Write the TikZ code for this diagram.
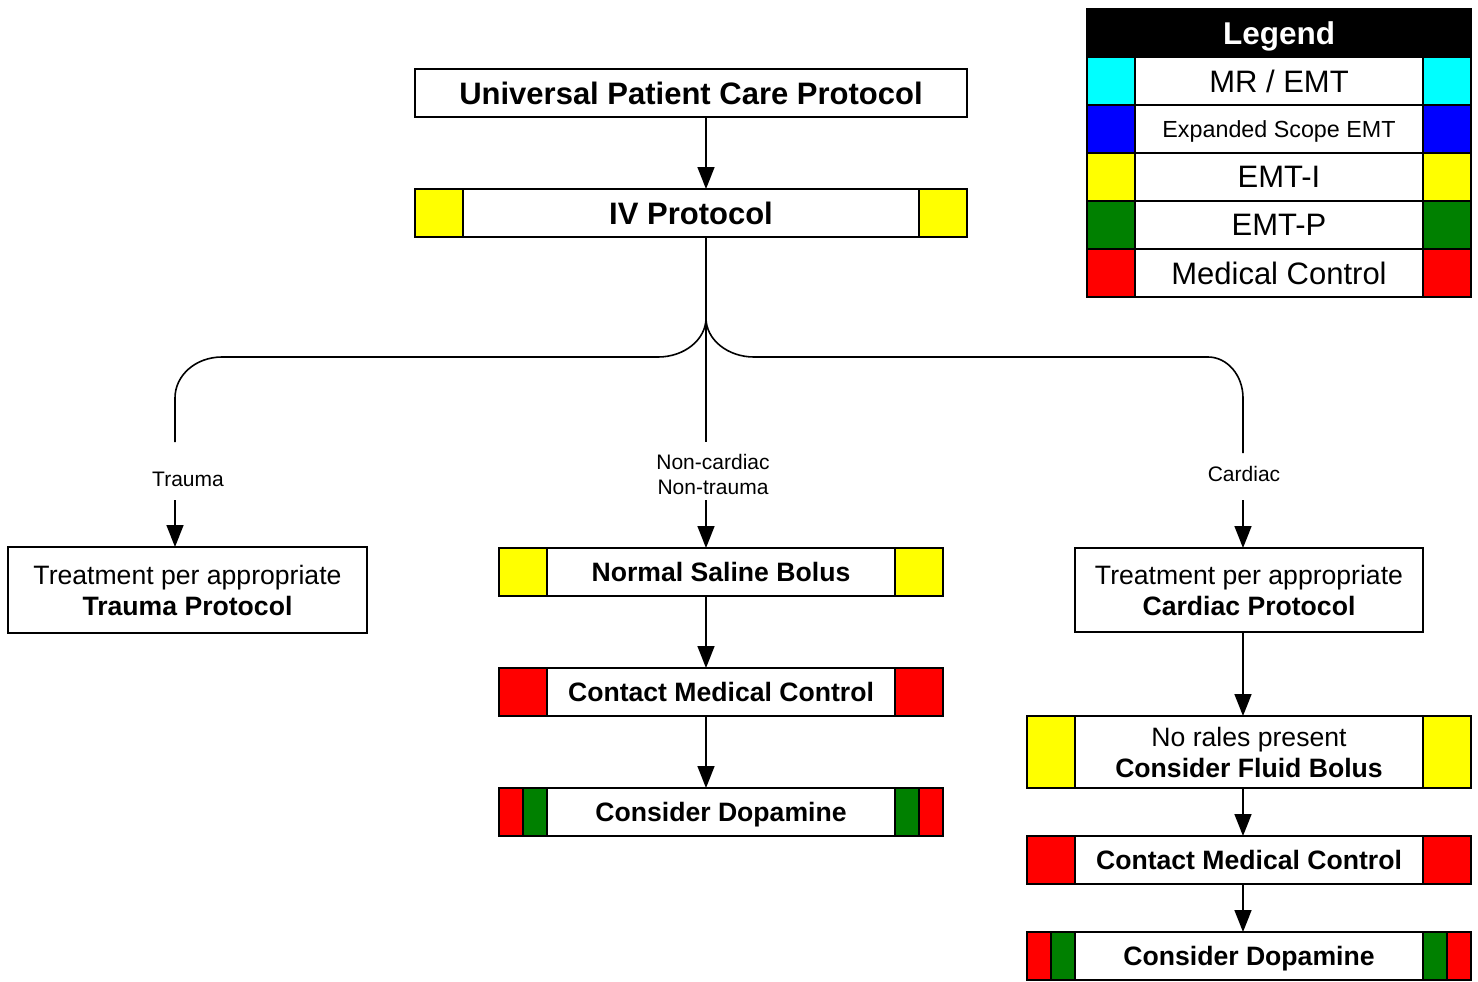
\documentclass[tikz,border=0pt]{standalone}
\usepackage{fontspec}
\setmainfont{Liberation Sans}
\usetikzlibrary{arrows.meta}
\definecolor{cgreen}{RGB}{0,128,0}
\definecolor{ccyan}{RGB}{0,255,255}
\definecolor{cblue}{RGB}{0,0,255}
\definecolor{cyellow}{RGB}{255,255,0}
\definecolor{cred}{RGB}{255,0,0}
\newcommand\onecell[2]{%
  \draw[cellbox,fill=#2] (#1.north west) rectangle ([xshift=48pt]#1.south west);
  \draw[cellbox,fill=#2] (#1.north east) rectangle ([xshift=-48pt]#1.south east);}
\newcommand\twocell[1]{%
  \draw[cellbox,fill=cred] (#1.north west) rectangle ([xshift=24pt]#1.south west);
  \draw[cellbox,fill=cgreen] ([xshift=24pt]#1.north west) rectangle ([xshift=48pt]#1.south west);
  \draw[cellbox,fill=cgreen] ([xshift=-48pt]#1.north east) rectangle ([xshift=-24pt]#1.south east);
  \draw[cellbox,fill=cred] ([xshift=-24pt]#1.north east) rectangle (#1.south east);}
\tikzset{
  box/.style={draw, line width=1.8pt, fill=white, inner sep=0pt, outer sep=0pt, align=center,
    font=\fontsize{26.6}{31}\selectfont},
  bigbox/.style={box, font=\fontsize{31}{36}\bfseries\selectfont},
  cellbox/.style={draw, line width=1.8pt},
  lgrow/.style={box, minimum width=384pt, minimum height=48pt, font=\fontsize{31}{36}\selectfont},
  lbl/.style={inner sep=0pt, align=center, font=\fontsize{21}{25}\selectfont},
  arr/.style={line width=1.6pt, -{Triangle[length=22pt,width=17pt]}},
  conn/.style={line width=1.6pt},
}
\begin{document}
\begin{tikzpicture}[x=1pt,y=-1pt]
\useasboundingbox[fill=white] (0,0) rectangle (1478,982);

% Legend
\node[box, fill=black, text=white, minimum width=384pt, minimum height=48pt,
  text height=22.6pt, text depth=0pt,
  font=\fontsize{31.5}{36}\bfseries\selectfont] (lgh) at (1279,33) {Legend};
\node[lgrow] (lg1) at (1279,81) {MR / EMT};
\node[lgrow, text height=16.7pt, text depth=0pt, font=\fontsize{23.3}{28}\selectfont] (lg2) at (1279,129) {Expanded Scope EMT};
\node[lgrow] (lg3) at (1279,177) {EMT-I};
\node[lgrow] (lg4) at (1279,225) {EMT-P};
\node[lgrow] (lg5) at (1279,273) {Medical Control};
\onecell{lg1}{ccyan}
\onecell{lg2}{cblue}
\onecell{lg3}{cyellow}
\onecell{lg4}{cgreen}
\onecell{lg5}{cred}

% Top
\node[bigbox, minimum width=552pt, minimum height=48pt] (upcp) at (691,93) {Universal Patient Care Protocol};
\node[bigbox, minimum width=552pt, minimum height=48pt] (iv) at (691,213) {IV Protocol};
\onecell{iv}{cyellow}

\coordinate (j) at (706,318);
\draw[arr] (upcp.south -| j) -- (iv.north -| j);

% branch
\coordinate (mEnd) at (706,442);
\coordinate (lEnd) at (175,442);
\coordinate (rEnd) at (1243,453);
\draw[conn] (iv.south -| j) -- (mEnd);
\draw[conn] (j) .. controls (706,339.5) and (684.5,357) .. (658,357) -- (222,357)
  .. controls (196,357) and (175,375) .. (175,398) -- (lEnd);
\draw[conn] (j) .. controls (706,339.5) and (727.5,357) .. (754,357) -- (1208,357)
  .. controls (1227,357) and (1243,375) .. (1243,398) -- (rEnd);

\node[lbl] (ltr) at (188,479) {Trauma};
\node[lbl] (lnc) at (713,474) {Non-cardiac\\Non-trauma};
\node[lbl] (lcd) at (1244,474) {Cardiac};

\coordinate (aL) at (175,500);
\coordinate (aM) at (706,500);
\coordinate (aR) at (1243,500);

% Left column
\node[box, minimum width=359pt, minimum height=86pt] (trb) at (187.5,590)
  {Treatment per appropriate\\\textbf{Trauma Protocol}};
\draw[arr] (aL) -- (aL |- trb.north);

% Middle column
\node[box, font=\fontsize{26.6}{31}\bfseries\selectfont, minimum width=444pt, minimum height=48pt] (nsb) at (721,572) {Normal Saline Bolus};
\node[box, font=\fontsize{26.6}{31}\bfseries\selectfont, minimum width=444pt, minimum height=48pt] (cmc1) at (721,692) {Contact Medical Control};
\node[box, font=\fontsize{26.6}{31}\bfseries\selectfont, text height=19pt, text depth=0pt, minimum width=444pt, minimum height=48pt] (cd1) at (721,812) {Consider Dopamine};
\onecell{nsb}{cyellow}
\onecell{cmc1}{cred}
\twocell{cd1}
\draw[arr] (aM) -- (aM |- nsb.north);
\draw[arr] (nsb.south -| aM) -- (cmc1.north -| aM);
\draw[arr] (cmc1.south -| aM) -- (cd1.north -| aM);

% Right column
\node[box, minimum width=348pt, minimum height=84pt] (crb) at (1249,590)
  {Treatment per appropriate\\\textbf{Cardiac Protocol}};
\node[box, minimum width=444pt, minimum height=72pt] (fb) at (1249,752)
  {No rales present\\\textbf{Consider Fluid Bolus}};
\node[box, font=\fontsize{26.6}{31}\bfseries\selectfont, minimum width=444pt, minimum height=48pt] (cmc2) at (1249,860) {Contact Medical Control};
\node[box, font=\fontsize{26.6}{31}\bfseries\selectfont, text height=19pt, text depth=0pt, minimum width=444pt, minimum height=48pt] (cd2) at (1249,956) {Consider Dopamine};
\onecell{fb}{cyellow}
\onecell{cmc2}{cred}
\twocell{cd2}
\draw[arr] (aR) -- (aR |- crb.north);
\draw[arr] (crb.south -| aR) -- (fb.north -| aR);
\draw[arr] (fb.south -| aR) -- (cmc2.north -| aR);
\draw[arr] (cmc2.south -| aR) -- (cd2.north -| aR);
\end{tikzpicture}
\end{document}
